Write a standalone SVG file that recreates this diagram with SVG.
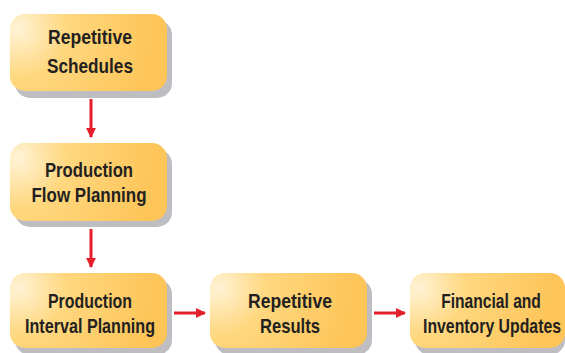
<svg xmlns="http://www.w3.org/2000/svg" width="565" height="353" viewBox="0 0 565 353">
<defs>
<radialGradient id="g" cx="0.05" cy="0.1" r="0.9" fx="0.05" fy="0.1" gradientTransform="scale(1,2)">
<stop offset="0" stop-color="#FFF3D6"/>
<stop offset="0.35" stop-color="#FFD77E"/>
<stop offset="1" stop-color="#FDC457"/>
</radialGradient>
<marker id="ah" viewBox="0 0 10 10" refX="9" refY="5" markerWidth="3.3" markerHeight="3.3" orient="auto" markerUnits="strokeWidth">
<path d="M0,0 L10,5 L0,10 Z" fill="#E51E2B"/>
</marker>
</defs>
<style>
.sh{fill:#BDBDC2}
.bx{fill:url(#g)}
.t{font-family:"Liberation Sans",Arial,sans-serif;font-weight:bold;font-size:21px;fill:#231F20;text-anchor:middle}
.c{stroke:#E51E2B;stroke-width:3;fill:none;marker-end:url(#ah)}
</style>
<g id="connectors">
<line class="c" x1="91" y1="99" x2="91" y2="137"/>
<line class="c" x1="91" y1="229" x2="91" y2="267"/>
<line class="c" x1="174" y1="313" x2="205" y2="313"/>
<line class="c" x1="374" y1="313" x2="405" y2="313"/>
</g>
<g id="n1">
<rect class="sh" x="15" y="20" width="157" height="78" rx="15"/>
<rect class="bx" x="10" y="14" width="157" height="77" rx="15"/>
<text class="t" x="90" y="44" textLength="84" lengthAdjust="spacingAndGlyphs">Repetitive</text>
<text class="t" x="90" y="73" textLength="86" lengthAdjust="spacingAndGlyphs">Schedules</text>
</g>
<g id="n2">
<rect class="sh" x="15" y="149" width="157" height="78" rx="15"/>
<rect class="bx" x="10" y="143" width="157" height="78" rx="15"/>
<text class="t" x="89" y="177" textLength="88" lengthAdjust="spacingAndGlyphs">Production</text>
<text class="t" x="89" y="202" textLength="115" lengthAdjust="spacingAndGlyphs">Flow Planning</text>
</g>
<g id="n3">
<rect class="sh" x="15" y="279" width="157" height="76" rx="15"/>
<rect class="bx" x="10" y="273" width="157" height="75" rx="15"/>
<text class="t" x="90" y="308" textLength="84" lengthAdjust="spacingAndGlyphs">Production</text>
<text class="t" x="90" y="333" textLength="130" lengthAdjust="spacingAndGlyphs">Interval Planning</text>
</g>
<g id="n4">
<rect class="sh" x="215" y="279" width="157" height="76" rx="15"/>
<rect class="bx" x="210" y="273" width="157" height="75" rx="15"/>
<text class="t" x="290" y="308" textLength="84" lengthAdjust="spacingAndGlyphs">Repetitive</text>
<text class="t" x="290" y="333" textLength="60" lengthAdjust="spacingAndGlyphs">Results</text>
</g>
<g id="n5">
<rect class="sh" x="415" y="279" width="150" height="76" rx="15"/>
<rect class="bx" x="410" y="273" width="155" height="75" rx="15"/>
<text class="t" transform="translate(491,308) scale(0.75,1)" textLength="133" lengthAdjust="spacingAndGlyphs">Financial and</text>
<text class="t" transform="translate(492,333) scale(0.75,1)" textLength="184" lengthAdjust="spacingAndGlyphs">Inventory Updates</text>
</g>
</svg>
